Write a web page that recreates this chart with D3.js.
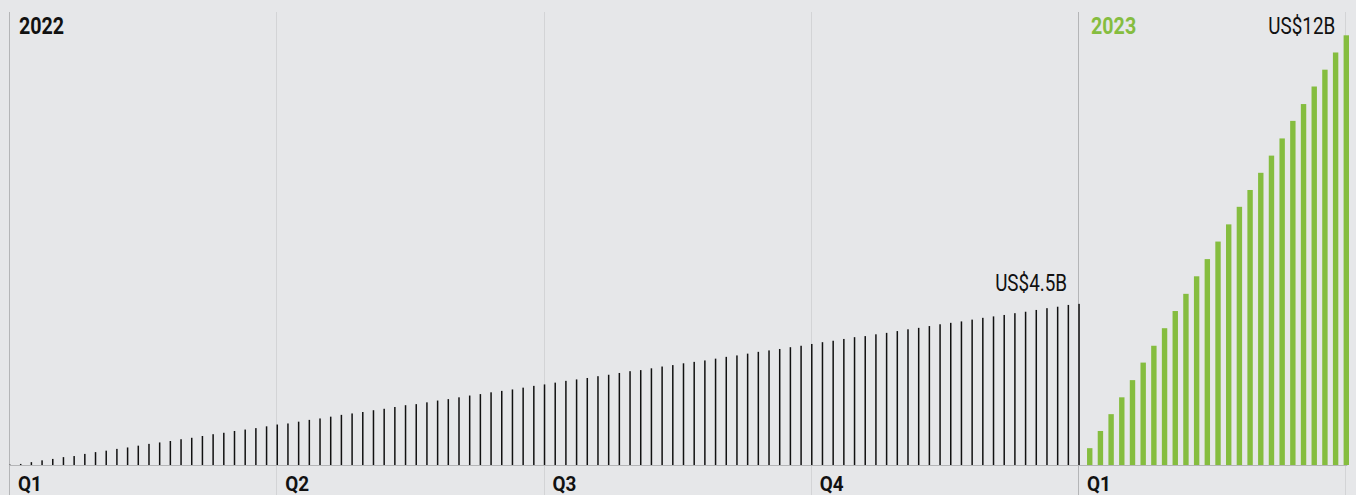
<!DOCTYPE html>
<html>
<head>
<meta charset="utf-8">
<script src="https://cdn.jsdelivr.net/npm/d3@7"></script>
<style>
  html, body { margin: 0; padding: 0; background: #e6e7e9; }
  text { font-family: Roboto, "Noto Sans", sans-serif; }
</style>
</head>
<body>
<div id="chart"></div>
<script>
// Cumulative value (US$ billions), one bar per step; 2022 black, 2023 green
const years = ["2022", "2023"];
const quarterLabels = ["Q1", "Q2", "Q3", "Q4", "Q1"];
const values2022 = [
  0.01, 0.03, 0.08, 0.13, 0.17, 0.22, 0.25, 0.31, 0.36, 0.40,
  0.45, 0.49, 0.54, 0.59, 0.63, 0.67, 0.72, 0.76, 0.81, 0.86,
  0.90, 0.95, 0.99, 1.03, 1.08, 1.13, 1.16, 1.21, 1.26, 1.30,
  1.35, 1.40, 1.44, 1.48, 1.53, 1.57, 1.62, 1.67, 1.70, 1.75,
  1.80, 1.84, 1.89, 1.94, 1.98, 2.03, 2.07, 2.11, 2.16, 2.21,
  2.25, 2.30, 2.35, 2.39, 2.43, 2.48, 2.52, 2.57, 2.62, 2.65,
  2.70, 2.75, 2.79, 2.84, 2.88, 2.92, 2.97, 3.02, 3.06, 3.11,
  3.16, 3.20, 3.24, 3.29, 3.33, 3.38, 3.43, 3.47, 3.52, 3.57,
  3.60, 3.65, 3.69, 3.74, 3.79, 3.83, 3.88, 3.93, 3.97, 4.01,
  4.06, 4.11, 4.15, 4.19, 4.24, 4.28, 4.33, 4.38, 4.42, 4.47,
  4.50
];
const values2023 = [
  0.47, 0.95, 1.42, 1.89, 2.37, 2.86, 3.33, 3.82, 4.30, 4.78,
  5.27, 5.75, 6.24, 6.72, 7.21, 7.68, 8.16, 8.64, 9.12, 9.61,
  10.08, 10.57, 11.04, 11.52, 12.0
];
const endLabels = ["US$4.5B", "US$12B"];

const width = 1356, height = 495;
const green = "#85bd3f";

const svg = d3.select("#chart").append("svg")
    .attr("width", width)
    .attr("height", height);

// one step per bar; 2022 uses steps 0..100, 2023 continues at 101..125
const n2022 = values2022.length;
const nTotal = n2022 - 1 + values2023.length;
const x = d3.scaleLinear().domain([0, nTotal]).range([10, 1346.3]);
const y = d3.scaleLinear().domain([0, 12]).range([465, 35.3]);

const data2022 = values2022.map((v, i) => ({ i: i, v: v }));
const data2023 = values2023.map((v, i) => ({ i: n2022 + i, v: v }));

// vertical guides at quarter boundaries
const quarterSteps = [0, 25, 50, 75, 100, nTotal];
svg.selectAll(".grid")
    .data(quarterSteps)
    .join("line")
    .attr("class", "grid")
    .attr("x1", d => Math.round(x(d)) - 0.5)
    .attr("x2", d => Math.round(x(d)) - 0.5)
    .attr("y1", 12)
    .attr("y2", height)
    .attr("stroke", (d, i) => (i === 0 || i === 4) ? "#b4b5b7" : "#d3d4d6")
    .attr("stroke-width", 1);

// baseline
svg.append("line")
    .attr("x1", x(0) - 1)
    .attr("x2", x(nTotal) + 1)
    .attr("y1", y(0) + 0.5)
    .attr("y2", y(0) + 0.5)
    .attr("stroke", "#b4b5b7");

// 2022 thin black bars
svg.selectAll(".bar22")
    .data(data2022)
    .join("rect")
    .attr("class", "bar22")
    .attr("x", d => x(d.i) - 0.75)
    .attr("width", 1.5)
    .attr("y", d => y(d.v))
    .attr("height", d => y(0) - y(d.v))
    .attr("fill", "#111");

// 2023 green bars
svg.selectAll(".bar23")
    .data(data2023)
    .join("rect")
    .attr("class", "bar23")
    .attr("x", d => x(d.i) - 2.7)
    .attr("width", 5.4)
    .attr("y", d => y(d.v))
    .attr("height", d => y(0) - y(d.v))
    .attr("fill", green);

// text is squeezed horizontally a bit, like a condensed face
function label(xPos, yPos, str, opts) {
    svg.append("g")
        .attr("transform", `translate(${xPos},${yPos}) scale(${opts.squeeze || 0.82},1)`)
        .append("text")
        .attr("text-anchor", opts.anchor || "start")
        .style("font-size", opts.size + "px")
        .style("font-weight", opts.weight || 400)
        .attr("fill", opts.color || "#111")
        .text(str);
}

// year headers
label(x(0) + 9, 34, years[0], { size: 24, weight: 700 });
label(x(100) + 12, 34, years[1], { size: 24, weight: 700, color: green });

// quarter labels under the baseline
quarterSteps.slice(0, 5).forEach((s, i) => {
    label(x(s) + 8, 491, quarterLabels[i], { size: 21, weight: 700, squeeze: 0.9 });
});

// end values
const last22 = data2022[data2022.length - 1];
const last23 = data2023[data2023.length - 1];
label(x(last22.i) - 12, y(last22.v) - 13, endLabels[0], { size: 23, anchor: "end" });
label(x(last23.i) - 11, 34, endLabels[1], { size: 23, anchor: "end" });
</script>
</body>
</html>
